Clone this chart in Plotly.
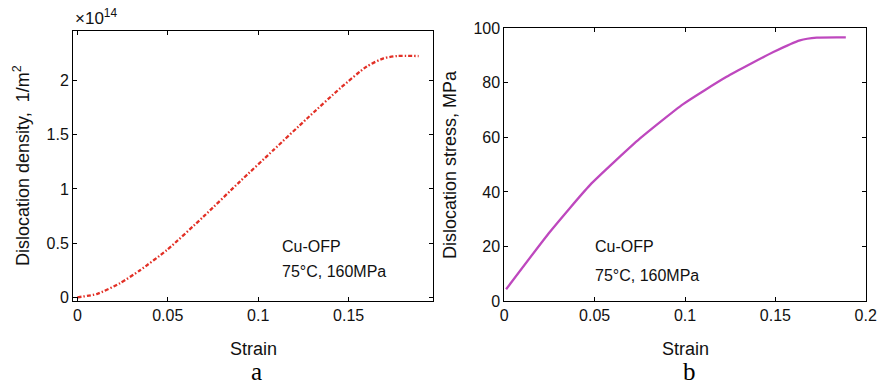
import plotly.graph_objects as go

# Panel a: dislocation density (x1e14 1/m^2) vs strain
strain_a = [0, 0.0107, 0.0236, 0.0347, 0.0495, 0.0697, 0.09, 0.1085, 0.127,
            0.1454, 0.160, 0.1693, 0.1768, 0.1887]
density_a = [0, 0.03, 0.13, 0.25, 0.436, 0.744, 1.07, 1.36, 1.65,
             1.93, 2.13, 2.205, 2.226, 2.226]

# Panel b: dislocation stress (MPa) vs strain
strain_b = [0.001, 0.0253, 0.0474, 0.0751, 0.099, 0.123, 0.1489, 0.1636, 0.1729, 0.189]
stress_b = [4.3, 25.4, 42.5, 59.6, 72.2, 82.2, 91.3, 95.6, 96.6, 96.7]

xticks_a = [0, 0.05, 0.1, 0.15]
xticklabels_a = ["0", "0.05", "0.1", "0.15"]
yticks_a = [0, 0.5, 1, 1.5, 2]
yticklabels_a = ["0", "0.5", "1", "1.5", "2"]
xticks_b = [0, 0.05, 0.1, 0.15, 0.2]
xticklabels_b = ["0", "0.05", "0.1", "0.15", "0.2"]
yticks_b = [0, 20, 40, 60, 80, 100]

FONT = "Liberation Sans, Arial, sans-serif"
SERIF = "Liberation Serif, Times New Roman, serif"
W, H = 881, 388

fig = go.Figure()
fig.add_trace(go.Scatter(x=strain_a, y=density_a, mode="lines",
                         line=dict(color="rgb(226,48,38)", width=2.3,
                                   dash="4px,2px,1.5px,2px", shape="spline", smoothing=0.6),
                         xaxis="x", yaxis="y", showlegend=False))
fig.add_trace(go.Scatter(x=strain_b, y=stress_b, mode="lines",
                         line=dict(color="rgb(190,72,190)", width=2.3,
                                   shape="spline", smoothing=0.5),
                         xaxis="x2", yaxis="y2", showlegend=False))

axis_common = dict(showline=True, linecolor="black", linewidth=1, mirror="ticks",
                   ticks="inside", ticklen=4, tickcolor="black", showgrid=False,
                   zeroline=False, automargin=False,
                   tickfont=dict(family=FONT, size=16, color="#111"))

fig.update_layout(
    width=W, height=H,
    margin=dict(l=0, r=0, t=0, b=0),
    paper_bgcolor="white", plot_bgcolor="white",
    font=dict(family=FONT, color="black"),
    xaxis=dict(domain=[73 / W, 433.3 / W], range=[-0.0024, 0.1968], anchor="y",
               tickvals=xticks_a, ticktext=xticklabels_a, **axis_common),
    yaxis=dict(domain=[1 - 301 / H, 1 - 31 / H], range=[-0.034, 2.457], anchor="x",
               tickvals=yticks_a, ticktext=yticklabels_a, **axis_common),
    xaxis2=dict(domain=[504.3 / W, 865.7 / W], range=[0, 0.2], anchor="y2",
                tickvals=xticks_b, ticktext=xticklabels_b, **axis_common),
    yaxis2=dict(domain=[1 - 301 / H, 1 - 28.3 / H], range=[0, 100], anchor="x2",
                tickvals=yticks_b, **axis_common),
)


def txt(x, y, text, size, family=FONT, xanchor="left", yanchor="middle", angle=0):
    fig.add_annotation(x=x / W, y=1 - y / H, xref="paper", yref="paper",
                       text=text, showarrow=False, xanchor=xanchor, yanchor=yanchor,
                       textangle=angle, font=dict(family=family, size=size, color="#111"))


# axis titles
txt(253, 349, "Strain", 18, xanchor="center")
txt(685, 349, "Strain", 18, xanchor="center")
txt(21, 166, "Dislocation density,  1/m<sup>2</sup>", 18, xanchor="center", angle=-90)
txt(450, 165, "Dislocation stress, MPa", 18, xanchor="center", angle=-90)

# in-plot labels
txt(280, 247, "Cu-OFP", 16)
txt(280, 271, "75°C, 160MPa", 16)
txt(593, 247, "Cu-OFP", 16)
txt(593, 275, "75°C, 160MPa", 16)

# exponent
txt(73, 17, "×10<sup>14</sup>", 17)

# panel letters
fig.add_annotation(x=256 / W, y=1 / H, xref="paper", yref="paper", text="a", showarrow=False,
                   xanchor="center", yanchor="bottom",
                   font=dict(family=SERIF, size=25, color="black"))
fig.add_annotation(x=689 / W, y=1 / H, xref="paper", yref="paper", text="b", showarrow=False,
                   xanchor="center", yanchor="bottom",
                   font=dict(family=SERIF, size=25, color="black"))

fig.write_html("out.html", config={"displayModeBar": False},
               post_script="document.body.style.margin='0';document.body.style.padding='0';")
